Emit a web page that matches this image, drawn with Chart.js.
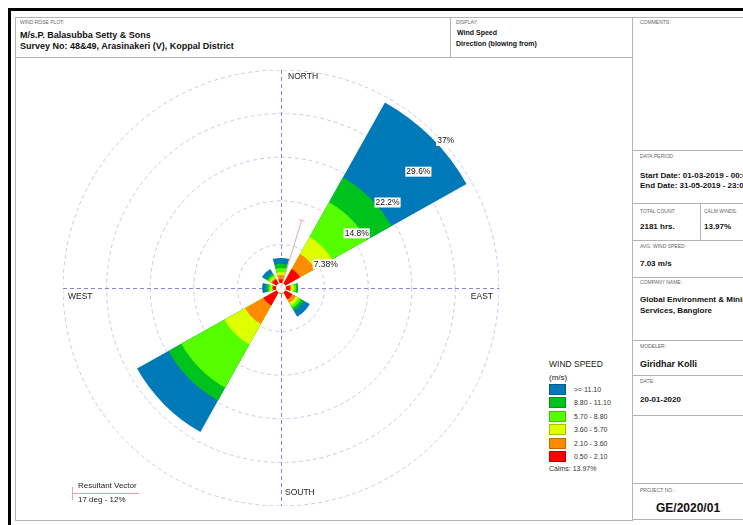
<!DOCTYPE html>
<html><head><meta charset="utf-8">
<script src="https://cdn.jsdelivr.net/npm/chart.js@4.4.1/dist/chart.umd.min.js"></script>
<style>
html,body{margin:0;padding:0;background:#fff;}
body{width:743px;height:525px;position:relative;overflow:hidden;font-family:"Liberation Sans",Arial,sans-serif;color:#111;}
.t{position:absolute;white-space:nowrap;}
.bar{position:absolute;background:#000;}
.hl{position:absolute;height:1px;background:#b4b4b4;}
.vl{position:absolute;width:1px;background:#b4b4b4;}
.cap{position:absolute;white-space:nowrap;font-size:5px;line-height:6px;color:#666;}
.b9{font-size:9px;line-height:11px;font-weight:bold;}
.b8{font-size:8px;line-height:10px;font-weight:bold;}
.lg{position:absolute;white-space:nowrap;font-size:7px;line-height:9px;color:#333;}
.sw{position:absolute;width:17px;height:11px;box-sizing:border-box;border:1px solid rgba(0,0,0,0.25);}
#wrap{position:absolute;left:63px;top:70px;width:436px;height:436px;}
</style></head>
<body>
<div class="bar" style="left:8px;top:8px;width:735px;height:3px"></div>
<div class="bar" style="left:8px;top:8px;width:3px;height:517px"></div>
<div style="position:absolute;left:15px;top:17px;width:616px;height:502px;border:1px solid #b4b4b4"></div>
<div class="hl" style="left:15px;top:57px;width:617px"></div>
<div class="vl" style="left:450px;top:17px;height:40px"></div>
<!-- right column lines -->
<div class="hl" style="left:632px;top:17px;width:111px"></div>
<div class="hl" style="left:632px;top:150px;width:111px"></div>
<div class="hl" style="left:632px;top:203px;width:111px"></div>
<div class="hl" style="left:632px;top:240px;width:111px"></div>
<div class="hl" style="left:632px;top:277px;width:111px"></div>
<div class="hl" style="left:632px;top:340px;width:111px"></div>
<div class="hl" style="left:632px;top:375px;width:111px"></div>
<div class="hl" style="left:632px;top:415px;width:111px"></div>
<div class="hl" style="left:632px;top:483px;width:111px"></div>
<div class="hl" style="left:632px;top:519px;width:111px"></div>
<div class="vl" style="left:700px;top:203px;height:37px"></div>

<!-- header -->
<div class="cap" style="left:20px;top:19px">WIND ROSE PLOT:</div>
<div class="t b9" style="left:20px;top:30px">M/s.P. Balasubba Setty &amp; Sons</div>
<div class="t b9" style="left:20px;top:41px">Survey No: 48&amp;49, Arasinakeri (V), Koppal District</div>
<div class="cap" style="left:456px;top:19px">DISPLAY:</div>
<div class="t" style="left:457px;top:28px;font-size:7px;line-height:9px;font-weight:bold">Wind Speed</div>
<div class="t" style="left:456px;top:39px;font-size:7px;line-height:9px;font-weight:bold">Direction (blowing from)</div>

<!-- right column -->
<div class="cap" style="left:640px;top:19px">COMMENTS:</div>
<div class="cap" style="left:640px;top:153px">DATA PERIOD:</div>
<div class="t b8" style="left:640px;top:171px">Start Date: 01-03-2019 - 00:00</div>
<div class="t b8" style="left:640px;top:181px">End Date: 31-05-2019 - 23:00</div>
<div class="cap" style="left:640px;top:208px">TOTAL COUNT:</div>
<div class="cap" style="left:704px;top:208px">CALM WINDS:</div>
<div class="t b8" style="left:640px;top:222px">2181 hrs.</div>
<div class="t b8" style="left:704px;top:222px" id="calmval"></div>
<div class="cap" style="left:640px;top:243px">AVG. WIND SPEED:</div>
<div class="t b8" style="left:640px;top:259px">7.03 m/s</div>
<div class="cap" style="left:640px;top:279px">COMPANY NAME:</div>
<div class="t b8" style="left:640px;top:295px">Global Environment &amp; Mining</div>
<div class="t b8" style="left:640px;top:306px">Services, Banglore</div>
<div class="cap" style="left:640px;top:343px">MODELER:</div>
<div class="t b9" style="left:640px;top:359px">Giridhar Kolli</div>
<div class="cap" style="left:640px;top:378px">DATE:</div>
<div class="t b8" style="left:640px;top:395px">20-01-2020</div>
<div class="cap" style="left:640px;top:487px">PROJECT NO.:</div>
<div class="t" style="left:656px;top:501px;font-size:12px;line-height:14px;font-weight:bold">GE/2020/01</div>

<div id="wrap"><canvas id="c" width="436" height="436"></canvas></div>

<!-- wind speed legend -->
<div class="t" style="left:549px;top:359px;font-size:8.5px;line-height:10px;color:#222">WIND SPEED</div>
<div class="t" style="left:549px;top:373px;font-size:8px;line-height:10px;color:#222">(m/s)</div>
<div id="legend"></div>

<!-- resultant vector legend -->
<div style="position:absolute;left:72px;top:487px;width:1px;height:13px;background:#f0a0a8"></div>
<div style="position:absolute;left:72px;top:493px;width:67px;height:1px;background:#f0a0a8"></div>
<div class="t" style="left:78px;top:481px;font-size:8px;line-height:10px;color:#222">Resultant Vector</div>
<div class="t" style="left:78px;top:495px;font-size:8px;line-height:10px;color:#222" id="resTxt"></div>

<script>
// ---- data ----
const directions = ['N', 'NE', 'E', 'SE', 'S', 'SW', 'W', 'NW'];
const speedBins = ['0.50 - 2.10', '2.10 - 3.60', '3.60 - 5.70', '5.70 - 8.80', '8.80 - 11.10', '>= 11.10'];
const binColors = ['#FF0000', '#FF8C00', '#DDFF00', '#55FF00', '#00C21D', '#0079B8'];
// frequency (%) per direction, one array per speed class
const freq_050_210 = [1.5, 3.7, 1.53, 2.2, 0.9, 3.4, 1.36, 1.7];
const freq_210_360 = [0.7, 2.9, 0.25, 0.7, 0.1, 3.6, 0.17, 0.25];
const freq_360_570 = [0.5, 3.3, 0.42, 0.5, 0.0, 4.0, 0.25, 0.25];
const freq_570_880 = [0.7, 6.8, 0.35, 0.5, 0.0, 8.4, 0.34, 0.35];
const freq_880_1110 = [0.7, 4.8, 0.35, 0.5, 0.0, 2.5, 0.43, 0.35];
const freq_ge_1110 = [1.0, 14.6, 0.0, 1.2, 0.0, 6.1, 0.65, 0.8];
const ringValues = [7.38, 14.8, 22.2, 29.6, 37];
const ringLabels = ['7.38%', '14.8%', '22.2%', '29.6%', '37%'];
const compassLabels = ['NORTH', 'EAST', 'SOUTH', 'WEST'];
const resultantDir = 17;     // degrees
const resultantPct = 12;     // %
const calmsPct = 13.97;

// ---- build ----
const binSeries = [freq_050_210, freq_210_360, freq_360_570, freq_570_880, freq_880_1110, freq_ge_1110];
const PETAL = 31.5, GAP = 45 - 31.5;
const labels = [];
directions.forEach(d => { labels.push(d); labels.push(''); });
const angles = directions.flatMap(() => [PETAL, GAP]);
const datasets = binSeries.map((s, b) => {
  const data = [];
  directions.forEach((d, i) => {
    let cum = 0;
    for (let k = 0; k <= b; k++) cum += binSeries[k][i];
    data.push(cum);
    data.push(0);
  });
  return {
    label: speedBins[b],
    data,
    backgroundColor: data.map((v, j) => j % 2 === 0 ? binColors[b] : 'rgba(0,0,0,0)'),
    borderWidth: 0,
    angle: angles
  };
});

document.getElementById('calmval').textContent = calmsPct.toFixed(2) + '%';
document.getElementById('resTxt').textContent = resultantDir + ' deg - ' + resultantPct + '%';

// legend
const lg = document.getElementById('legend');
for (let i = speedBins.length - 1, row = 0; i >= 0; i--, row++) {
  const y = 384 + row * 13.4;
  const sw = document.createElement('div');
  sw.className = 'sw';
  sw.style.left = '549px'; sw.style.top = y + 'px'; sw.style.background = binColors[i];
  lg.appendChild(sw);
  const tx = document.createElement('div');
  tx.className = 'lg';
  tx.style.left = '574px'; tx.style.top = (y + 1) + 'px';
  tx.textContent = speedBins[i];
  lg.appendChild(tx);
}
const calm = document.createElement('div');
calm.className = 'lg';
calm.style.left = '549px'; calm.style.top = '464px';
calm.textContent = 'Calms: ' + calmsPct.toFixed(2) + '%';
lg.appendChild(calm);

const FONT = '"Liberation Sans", Arial, sans-serif';
const rosePlugin = {
  id: 'rose',
  beforeDatasetsDraw(chart) {
    const s = chart.scales.r, ctx = chart.ctx;
    const cx = s.xCenter, cy = s.yCenter, R = s.drawingArea;
    ctx.save();
    ctx.strokeStyle = '#8484dc';
    ctx.lineWidth = 1;
    ctx.setLineDash([4, 3]);
    ctx.beginPath();
    ctx.moveTo(cx - R, cy + 0.5); ctx.lineTo(cx + R, cy + 0.5);
    ctx.moveTo(cx + 0.5, cy - R); ctx.lineTo(cx + 0.5, cy + R);
    ctx.stroke();
    ctx.restore();
  },
  afterDatasetsDraw(chart) {
    const s = chart.scales.r, ctx = chart.ctx;
    const cx = s.xCenter, cy = s.yCenter, R = s.drawingArea;
    ctx.save();
    // calm circle
    ctx.fillStyle = '#fff';
    ctx.beginPath(); ctx.arc(cx, cy, 5, 0, Math.PI * 2); ctx.fill();
    // resultant vector
    const a = resultantDir * Math.PI / 180;
    const rl = s.getDistanceFromCenterForValue(resultantPct);
    const ex = cx + rl * Math.sin(a), ey = cy - rl * Math.cos(a);
    ctx.strokeStyle = '#f4a4ac'; ctx.lineWidth = 1;
    ctx.beginPath(); ctx.moveTo(cx, cy); ctx.lineTo(ex, ey);
    ctx.moveTo(ex - 3 * Math.cos(a), ey - 3 * Math.sin(a));
    ctx.lineTo(ex + 3 * Math.cos(a), ey + 3 * Math.sin(a));
    ctx.stroke();
    // ring labels
    ctx.font = '8.5px ' + FONT;
    ctx.textBaseline = 'top';
    ctx.textAlign = 'left';
    ringValues.forEach((v, i) => {
      const r = s.getDistanceFromCenterForValue(v);
      const px = cx + r * Math.SQRT1_2 + 2, py = cy - r * Math.SQRT1_2 + 3;
      const w = ctx.measureText(ringLabels[i]).width;
      ctx.fillStyle = '#fff';
      ctx.fillRect(px - 1, py - 1, w + 2, 10);
      ctx.fillStyle = '#111';
      ctx.fillText(ringLabels[i], px, py);
    });
    // compass labels
    ctx.fillStyle = '#222';
    ctx.textBaseline = 'middle';
    ctx.fillText(compassLabels[0], cx + 7, cy - R + 7);
    ctx.textAlign = 'right';
    ctx.fillText(compassLabels[1], cx + R - 6, cy + 9);
    ctx.textAlign = 'left';
    ctx.fillText(compassLabels[2], cx + 4, cy + R - 13);
    ctx.fillText(compassLabels[3], cx - R + 5, cy + 9);
    ctx.restore();
  }
};

new Chart(document.getElementById('c'), {
  type: 'polarArea',
  data: { labels, datasets },
  options: {
    responsive: false,
    animation: false,
    layout: { padding: 0 },
    plugins: { legend: { display: false }, tooltip: { enabled: false } },
    scales: {
      r: {
        min: 0,
        max: ringValues[ringValues.length - 1],
        startAngle: -PETAL / 2,
        ticks: { display: false },
        afterBuildTicks: sc => { sc.ticks = [0].concat(ringValues).map(v => ({ value: v })); },
        grid: { color: '#cacaee', lineWidth: 1, circular: true },
        border: { dash: [4, 3] },
        angleLines: { display: false },
        pointLabels: { display: false }
      }
    }
  },
  plugins: [rosePlugin]
});
</script>
</body></html>
